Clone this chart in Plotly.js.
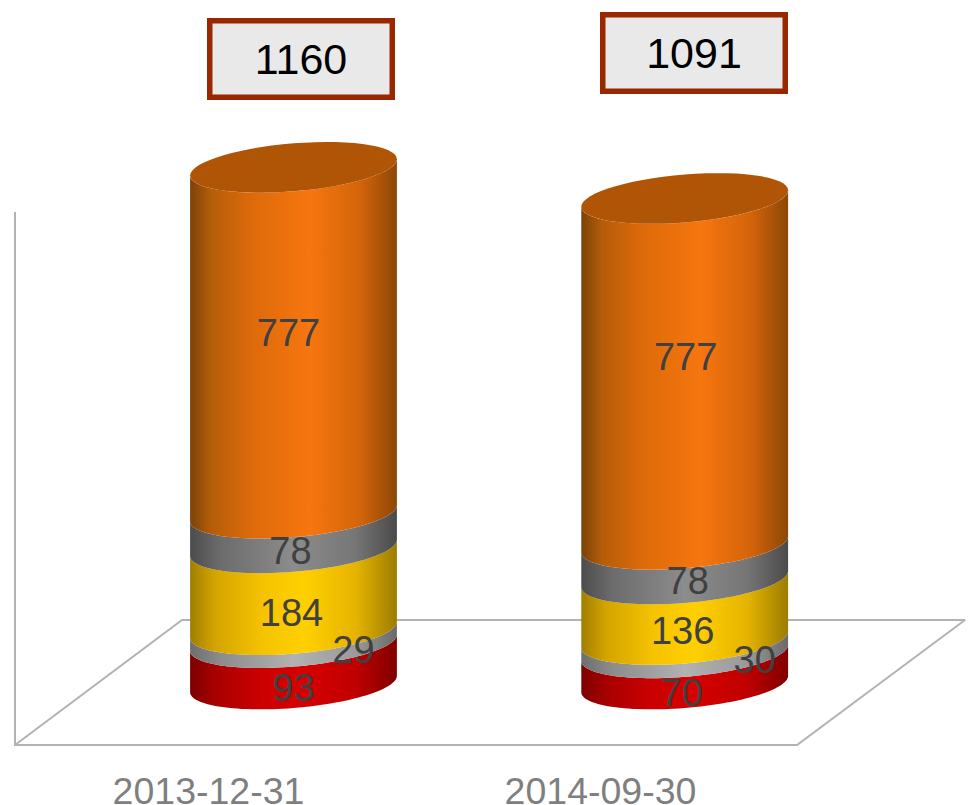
<!DOCTYPE html>
<html>
<head>
<meta charset="utf-8">
<script src="https://cdn.plot.ly/plotly-3.0.1.min.js"></script>
<style>html,body{margin:0;padding:0;background:#fff}#chart{width:974px;height:805px}</style>
</head>
<body>
<div id="chart"></div>
<script>
// ---- data ----
const categories = ['2013-12-31', '2014-09-30'];
const totals = [1160, 1091];
const red = [93, 70];
const lightGray = [29, 30];
const yellow = [184, 136];
const darkGray = [78, 78];
const orange = [777, 777];

// ---- styles ----
const seriesList = [red, lightGray, yellow, darkGray, orange];
const scales = [
  [[0,'#7c0000'],[0.12,'#a80000'],[0.35,'#cc0000'],[0.55,'#d60000'],[0.8,'#c00000'],[1,'#800000']],
  [[0,'#6e6e6e'],[0.15,'#8c8c8c'],[0.5,'#b2b2b2'],[0.8,'#9a9a9a'],[1,'#6a6a6a']],
  [[0,'#a07e00'],[0.12,'#d4a400'],[0.35,'#f5c300'],[0.55,'#ffd000'],[0.8,'#e6b400'],[1,'#9c7c00']],
  [[0,'#4c4c4c'],[0.15,'#6c6c6c'],[0.5,'#8c8c8c'],[0.8,'#767676'],[1,'#4a4a4a']],
  [[0,'#7a4208'],[0.1,'#b45d0a'],[0.3,'#de6a0a'],[0.58,'#f6760f'],[0.82,'#d4640a'],[1,'#8c4706']]
];
const capColor = '#b05506';
const axisGray = '#b2b2b2';
const labelColor = '#404040';

// ---- geometry constants: pixel scale of the two axes ----
const W = 974, plotH = 758;
const pxPerX = 391.2, x0Px = 293.5;
const pxPerV = 0.445, v0Px = 684;
const xv = p => (p - x0Px) / pxPerX;
const vv = p => (v0Px - p) / pxPerV;
const R = 103.4 / pxPerX, TILT = 8.2 / pxPerV, B = 24 / pxPerV;
const N = 60;

function arc(cx, c, from, to) {
  const xs = [], ys = [];
  for (let i = 0; i <= N; i++) {
    const t = from + (to - from) * i / N;
    xs.push(cx + R * Math.cos(t));
    ys.push(c + TILT * Math.cos(t) + B * Math.sin(t));
  }
  return [xs, ys];
}

const traces = [];
// wall and floor
traces.push({
  x: [15, 15, 797, 965, 182, 15].map(xv),
  y: [212, 745, 745, 620, 620, 745].map(vv),
  mode: 'lines', line: {color: axisGray, width: 2}, hoverinfo: 'skip'
});

// label offsets in pixels [dx, dy] per category and series
const labelShift = [
  [[0,28],[60,17],[-2,28],[-3,24.5],[-5,-4]],
  [[-3,27.6],[70,17],[-2,25],[3,23],[1,-11]]
];
const lx = [], ly = [], lt = [];

categories.forEach((cat, i) => {
  let base = 0;
  seriesList.forEach((series, s) => {
    const top = base + series[i];
    const lower = arc(i, base, Math.PI, 2 * Math.PI);
    const upper = arc(i, top, 2 * Math.PI, Math.PI);
    traces.push({
      x: lower[0].concat(upper[0]),
      y: lower[1].concat(upper[1]),
      mode: 'none', fill: 'toself',
      fillgradient: {type: 'horizontal', colorscale: scales[s]},
      hoverinfo: 'skip'
    });
    const sh = labelShift[i][s];
    lx.push(i + sh[0] / pxPerX);
    ly.push((base + top) / 2 - sh[1] / pxPerV);
    lt.push(String(series[i]));
    base = top;
  });
  const cap = arc(i, base, 0, 2 * Math.PI);
  traces.push({
    x: cap[0], y: cap[1], mode: 'none', fill: 'toself',
    fillcolor: capColor, hoverinfo: 'skip'
  });
});

traces.push({
  x: lx, y: ly, text: lt, mode: 'text', textposition: 'middle center',
  textfont: {family: 'Liberation Sans', size: 38, color: labelColor},
  hoverinfo: 'skip'
});

const boxCenters = [[301, 58.5], [694, 53]];
const annotations = totals.map((t, i) => ({
  x: xv(boxCenters[i][0]), y: vv(boxCenters[i][1]),
  xref: 'x', yref: 'y', xanchor: 'center', yanchor: 'middle',
  text: String(t), showarrow: false,
  font: {family: 'Liberation Sans', size: 43, color: '#000000'},
  bgcolor: '#e9e9e9', bordercolor: '#992800', borderwidth: 5.5,
  width: 177, height: 71, borderpad: 0
}));

const layout = {
  width: W, height: 805,
  margin: {l: 0, r: 0, t: 0, b: 805 - plotH},
  paper_bgcolor: '#ffffff', plot_bgcolor: '#ffffff',
  showlegend: false,
  xaxis: {
    range: [xv(0), xv(W)], showgrid: false, zeroline: false, showline: false,
    tickmode: 'array',
    tickvals: [xv(208.5), xv(600.5)],
    ticktext: categories,
    ticks: 'outside', ticklen: 0, tickcolor: 'rgba(0,0,0,0)',
    tickfont: {family: 'Liberation Sans', size: 37.5, color: '#7f7f7f'},
    tickangle: 0, automargin: false, fixedrange: true
  },
  yaxis: {
    range: [vv(plotH), vv(0)], visible: false, fixedrange: true
  },
  annotations: annotations
};
Plotly.newPlot('chart', traces, layout, {displayModeBar: false, staticPlot: true});
</script>
</body>
</html>
